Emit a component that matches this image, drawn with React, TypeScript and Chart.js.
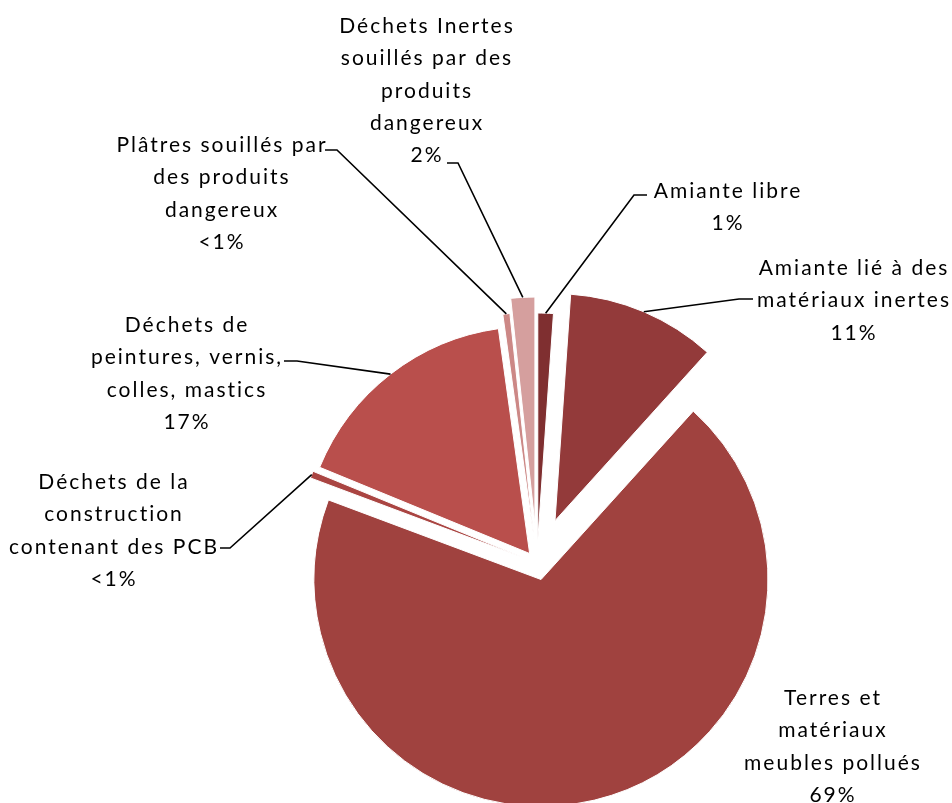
import { useEffect, useRef } from "react";
import { Chart, registerables } from "chart.js";

Chart.register(...registerables);

// Waste categories (clockwise from 12 o'clock)
const categories = [
  "Amiante libre",
  "Amiante lié à des matériaux inertes",
  "Terres et matériaux meubles pollués",
  "Déchets de la construction contenant des PCB",
  "Déchets de peintures, vernis, colles, mastics",
  "Plâtres souillés par des produits dangereux",
  "Déchets Inertes souillés par des produits dangereux",
];

// Share of the total tonnage, in %
const shares = [1.1, 10.6, 69.0, 0.5, 16.6, 0.5, 1.7];

// Category names as they are wrapped in the data labels
const labelLines = [
  ["Amiante libre"],
  ["Amiante lié à des", "matériaux inertes"],
  ["Terres et", "matériaux", "meubles pollués"],
  ["Déchets de la", "construction", "contenant des PCB"],
  ["Déchets de", "peintures, vernis,", "colles, mastics"],
  ["Plâtres souillés par", "des produits", "dangereux"],
  ["Déchets Inertes", "souillés par des", "produits", "dangereux"],
];

const sliceColors = [
  "#7f2f30",
  "#933a3a",
  "#a0423f",
  "#aa4542",
  "#b94f4c",
  "#cc8886",
  "#d59f9e",
];

// How far each slice is pulled out of the pie, in px
const explode = [23, 46, 17, 15, 12, 24, 39];

// Label placement: text centre x, first baseline y, leader elbow and leader end
type LabelPlace = { cx: number; y: number; elbow?: [number, number]; end?: [number, number] };
const labelPlaces: LabelPlace[] = [
  { cx: 727, y: 198, elbow: [634, 195], end: [647, 195] },
  { cx: 853, y: 275, elbow: [739, 299], end: [753, 299] },
  { cx: 832, y: 705 },
  { cx: 113, y: 489, elbow: [230, 548], end: [220, 548] },
  { cx: 186, y: 332, elbow: [297, 361], end: [284, 361] },
  { cx: 221, y: 152, elbow: [337, 150], end: [325, 150] },
  { cx: 426, y: 33, elbow: [458, 163], end: [447, 163] },
];

const LINE_HEIGHT = 32.3;
const FONT = "21px Lato, 'Noto Sans', sans-serif";

const percentText = (v: number) => (v < 1 ? "<1%" : `${Math.round(v)}%`);

// Moves every arc outward along its bisector
const explodePlugin = {
  id: "explodeSlices",
  afterDatasetsUpdate(chart: Chart) {
    const meta = chart.getDatasetMeta(0);
    meta.data.forEach((el: any, i: number) => {
      const mid = (el.startAngle + el.endAngle) / 2;
      el.x += Math.cos(mid) * explode[i];
      el.y += Math.sin(mid) * explode[i];
    });
  },
};

// Wrapped category names with percentages and leader lines
const labelPlugin = {
  id: "sliceLabels",
  afterDatasetsDraw(chart: Chart) {
    const ctx = chart.ctx;
    const meta = chart.getDatasetMeta(0);
    ctx.save();
    ctx.strokeStyle = "#000";
    ctx.lineWidth = 1.6;
    meta.data.forEach((el: any, i: number) => {
      const p = labelPlaces[i];
      if (!p.elbow || !p.end) return;
      const mid = (el.startAngle + el.endAngle) / 2;
      const ax = el.x + Math.cos(mid) * el.outerRadius;
      const ay = el.y + Math.sin(mid) * el.outerRadius;
      ctx.beginPath();
      ctx.moveTo(ax, ay);
      ctx.lineTo(p.elbow[0], p.elbow[1]);
      ctx.lineTo(p.end[0], p.end[1]);
      ctx.stroke();
    });
    ctx.fillStyle = "#000";
    ctx.font = FONT;
    (ctx as any).letterSpacing = "2px";
    ctx.textAlign = "center";
    ctx.textBaseline = "alphabetic";
    meta.data.forEach((_el: any, i: number) => {
      const p = labelPlaces[i];
      const lines = [...labelLines[i], percentText(shares[i])];
      lines.forEach((t, k) => {
        ctx.fillText(t, p.cx + 1, p.y + k * LINE_HEIGHT);
      });
    });
    ctx.restore();
  },
};

export default function App() {
  const canvasRef = useRef<HTMLCanvasElement>(null);

  useEffect(() => {
    if (!canvasRef.current) return;
    const chart = new Chart(canvasRef.current, {
      type: "pie",
      data: {
        labels: categories,
        datasets: [
          {
            data: shares,
            backgroundColor: sliceColors,
            borderColor: "#ffffff",
            borderWidth: 1,
            clip: false,
          } as any,
        ],
      },
      options: {
        responsive: false,
        animation: false,
        radius: 227,
        layout: { padding: { left: 122, top: 323, right: 0, bottom: 0 } },
        plugins: {
          legend: { display: false },
          tooltip: { enabled: false },
        },
      } as any,
      plugins: [explodePlugin, labelPlugin],
    });
    return () => chart.destroy();
  }, []);

  return (
    <div style={{ position: "absolute", left: 0, top: 0, width: 952, height: 803, background: "#fff" }}>
      <canvas ref={canvasRef} width={952} height={803} style={{ display: "block" }} />
    </div>
  );
}
